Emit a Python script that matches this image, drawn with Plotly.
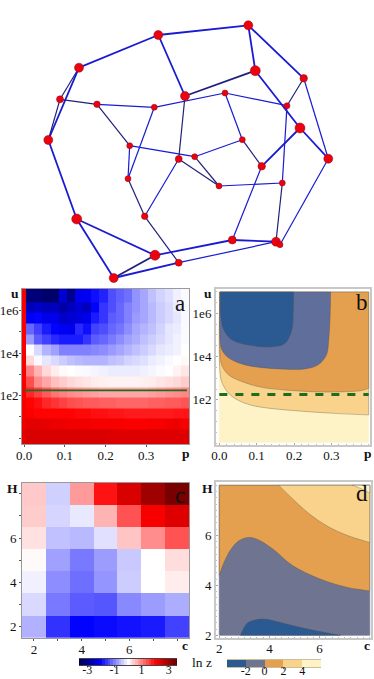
import plotly.graph_objects as go

W, H = 374, 679
SERIF = "Liberation Serif"

# ---- graph (top): node positions
node_x = [248.3,158.3,79,60,97,154.3,185,225,255.3,303.7,287,300,328.3,48.3,129.7,242.3,194.7,178.7,261.7,128,219,282.3,144.7,76.7,155,232.3,276,280,178.7,113.7]
node_y = [25.3,35,67.7,99.3,104.3,107.3,96,93,70.7,78.3,105.7,128,158.7,140,145.7,139.7,156.7,159,166.3,178.7,186,183,216.3,219,255.3,240,241.7,244.7,262.7,278]
node_size = [9,9,9,7,6.5,6,9,6,10,7.5,6,10,9,9,6,6,6,7,7.5,6,6,6,6.5,10,10,8,9,6,7,9]
edges = [(0,1),(0,8),(0,9),(1,2),(1,6),(2,3),(2,13),(3,13),(3,4),(4,5),(4,14),(5,7),(5,19),(6,8),(6,17),(7,10),(7,15),(8,11),(9,10),(9,12),(10,21),(11,12),(11,18),(12,27),(13,23),(14,16),(14,19),(15,16),(15,18),(16,20),(17,20),(17,22),(18,25),(19,22),(20,21),(21,26),(22,28),(23,24),(23,29),(24,25),(24,29),(25,26),(28,29),(28,26)]
dark_edges = [(2,3),(3,13),(3,4),(4,14),(6,8),(6,17),(9,10),(15,18),(16,20),(17,20),(19,22),(22,28),(21,26),(24,29)]
thick_edges = [(0,1),(0,8),(0,9),(1,2),(1,6),(2,13),(6,8),(8,11),(11,12),(11,18),(13,23),(23,24),(23,29),(24,25),(24,29),(25,26),(28,29)]

# ---- panel a
a_p_edges = [-0.005,0.005,0.025,0.045,0.065,0.085,0.105,0.125,0.145,0.165,0.185,0.205,0.225,0.245,0.265,0.285,0.305,0.325,0.345,0.365,0.385,0.405]
a_u_edges = [-0.28,0.4,0.9,1.4,1.9,2.4,2.9,3.4,3.9,4.4,4.9,5.4,5.9,6.4,7.05]
a_z = [
 [2.3,2.4,2.4,2.4,2.4,2.4,2.4,2.4,2.4,2.4,2.4,2.35,2.35,2.35,2.35,2.35,2.35,2.35,2.35,2.35,2.35],
 [2.2,2.3,2.3,2.25,2.2,2.2,2.15,2.15,2.15,2.1,2.1,2.1,2.1,2.05,2.05,2.05,2.1,2.1,2.15,2.2,2.1],
 [2.1,2.05,2,2,2,2,2,1.95,1.95,1.9,1.9,1.85,1.85,1.8,1.8,1.8,1.8,1.8,1.8,1.85,1.85],
 [2.1,2.0,1.9,1.7,1.6,1.5,1.4,1.35,1.3,1.3,1.25,1.25,1.2,1.2,1.2,1.2,1.25,1.25,1.3,1.3,1.35],
 [2.1,1.7,1.5,1.3,1.1,1.0,0.9,0.85,0.8,0.75,0.7,0.7,0.7,0.7,0.7,0.7,0.75,0.8,0.85,0.9,0.95],
 [2.1,1.4,0.9,0.7,0.5,0.4,0.3,0.25,0.2,0.15,0.12,0.1,0.1,0.1,0.1,0.12,0.15,0.2,0.25,0.3,0.4],
 [2.1,1.0,0.6,0.3,0.15,0.05,0,-0.03,-0.05,-0.08,-0.12,-0.15,-0.15,-0.15,-0.15,-0.12,-0.08,-0.03,0,0.1,0.2],
 [2.1,0.3,-0.05,-0.2,-0.3,-0.4,-0.5,-0.55,-0.6,-0.6,-0.6,-0.5,-0.45,-0.35,-0.3,-0.25,-0.15,-0.1,-0.05,0,0.05],
 [2.1,0,-0.3,-0.6,-0.75,-1.0,-1.0,-1.0,-1.0,-0.95,-0.9,-0.8,-0.7,-0.6,-0.5,-0.4,-0.3,-0.2,-0.15,-0.1,0],
 [2.1,-0.8,-1.3,-1.5,-1.7,-1.8,-1.8,-1.8,-1.6,-1.3,-1.2,-1.05,-0.9,-0.75,-0.65,-0.5,-0.4,-0.3,-0.2,-0.1,-0.03],
 [2.1,-1.2,-1.5,-1.8,-2.0,-2.1,-2.2,-1.7,-1.9,-1.5,-1.4,-1.2,-1.1,-0.9,-0.7,-0.6,-0.5,-0.35,-0.2,-0.15,-0.05],
 [2.1,-2.1,-2.0,-2.2,-2.2,-2.5,-2.4,-2.3,-2.2,-1.8,-1.6,-1.3,-1.2,-1.0,-0.8,-0.7,-0.55,-0.4,-0.3,-0.2,-0.05],
 [2.1,-2.6,-2.5,-2.6,-2.6,-2.8,-2.6,-2.4,-2.6,-2.0,-1.6,-1.4,-1.2,-1.0,-0.85,-0.7,-0.55,-0.4,-0.3,-0.15,-0.05],
 [2.1,-3.2,-3.2,-3.3,-3.3,-2.4,-3.0,-2.2,-2.1,-1.9,-1.75,-1.4,-1.25,-1.15,-0.85,-0.7,-0.5,-0.35,-0.25,-0.12,-0.03],
]
green_u = 2.25

# ---- panel b: contour boundaries (p, log10 u); each region closes along the frame
b1_p = [0.001,0.003,0.012,0.029,0.052,0.087,0.132,0.22,0.309,0.4,0.4,0.001]
b1_u = [6.98,3.08,2.62,2.23,1.97,1.75,1.62,1.48,1.38,1.31,6.98,6.98]
b2_p = [0.001,0.003,0.009,0.025,0.06,0.114,0.176,0.265,0.336,0.38,0.4,0.4,0.001]
b2_u = [6.98,3.85,3.51,3.15,2.85,2.58,2.46,2.37,2.38,2.43,2.54,6.98,6.98]
b3_p = [0.001,0.002,0.005,0.02,0.06,0.114,0.176,0.229,0.265,0.287,0.293,0.297,0.298,0.001]
b3_u = [6.98,4.77,4.38,4.0,3.66,3.49,3.42,3.43,3.62,4.08,4.77,6.0,6.98,6.98]
b4_p = [0.003,0.004,0.012,0.034,0.087,0.14,0.176,0.194,0.198,0.199,0.003]
b4_u = [6.98,5.85,5.23,4.77,4.51,4.45,4.62,5.23,6.0,6.98,6.98]
b_base_p = [0,0.4,0.4,0,0]
b_base_u = [0.05,0.05,6.98,6.98,0.05]

# ---- panel c
c_c = [2,3,4,5,6,7,8]
c_H = [2,3,4,5,6,7,8]
c_z = [
 [-0.62,-1.62,-2.0,-1.94,-1.87,-1.81,-1.5],
 [-0.3,-1.06,-1.3,-1.34,-0.93,-0.78,-0.65],
 [-0.12,-0.9,-1.15,-0.84,-0.4,0,0.15],
 [0.04,-0.75,-1.06,-0.78,-0.43,0,0.27],
 [0.24,-0.49,-0.55,-0.24,0.46,0.9,1.37],
 [0.4,-0.33,-0.18,0.59,1.37,2.1,2.35],
 [0.43,-0.37,0.8,1.87,2.4,3.0,3.4],
]

# ---- panel d: contour boundaries (c, H)
d_base_c = [2,8,8,2,2]
d_base_H = [2,2,8,8,2]
d1_c = [2.84,3.1,3.37,3.77,4.37,5.17,5.97,6.84,2.84]
d1_H = [2,2.47,2.6,2.65,2.53,2.33,2.16,2,2]
d2_c = [2,2.17,2.44,2.77,3.13,3.51,4.11,4.91,5.97,7.04,8,8,2,2]
d2_H = [4.4,4.87,5.4,5.77,5.91,5.84,5.47,4.8,4.27,3.93,3.77,8,8,4.4]
d3_c = [4.37,4.91,5.57,6.37,7.17,8,8,4.37]
d3_H = [8,7.47,6.87,6.33,5.97,5.71,8,8]
d4_c = [7.31,7.64,8,8,7.31]
d4_H = [8,7.87,7.69,8,8]

# ---- colours and legends
diverging = [[0,"#00004A"],[0.22,"#0000FF"],[0.5,"#FFFFFF"],[0.78,"#FF0000"],[1,"#640000"]]
ramp_levels = [-3.6,-3.4,-3.2,-3,-2.8,-2.6,-2.4,-2.2,-2,-1.8,-1.6,-1.4,-1.2,-1,-0.8,-0.6,-0.4,-0.2,0,0.2,0.4,0.6,0.8,1,1.2,1.4,1.6,1.8,2,2.2,2.4,2.6,2.8,3,3.2,3.4,3.6]
level_edges = [-4,-2,0,2,4,6]
level_mid = [-3,-1,1,3,5]
level_colors = ["#2B5A92","#6F7490","#E5A04F","#F9D38C","#FDF3C7"]
b_slate = "#5F6E9A"
frame_grey = "#C8C8C8"

def xdom(a, b): return [a / W, b / W]
def ydom(a, b): return [1 - b / H, 1 - a / H]

fig = go.Figure()
tf = dict(family=SERIF, size=13, color="#111")
tf_legend = dict(family=SERIF, size=12, color="#111")

# graph
def add_edges(subset, color, width):
    xs, ys = [], []
    for i, j in subset:
        xs += [node_x[i], node_x[j], None]
        ys += [node_y[i], node_y[j], None]
    fig.add_trace(go.Scatter(x=xs, y=ys, mode="lines", line=dict(color=color, width=width),
                             xaxis="x", yaxis="y", hoverinfo="skip", showlegend=False))
for e in edges:
    col = "#20207A" if e in dark_edges else "#1A1AD2"
    add_edges([e], col, 1.8 if e in thick_edges else 1.2)
fig.add_trace(go.Scatter(x=node_x, y=node_y, mode="markers",
                         marker=dict(size=node_size, color="#EE0010", opacity=1, line=dict(color="#801010", width=0.5)),
                         xaxis="x", yaxis="y", showlegend=False))

# a
fig.add_trace(go.Heatmap(x=a_p_edges, y=a_u_edges, z=a_z, coloraxis="coloraxis", xaxis="x2", yaxis="y2"))
fig.add_trace(go.Scatter(x=[0, 0.4], y=[green_u, green_u], mode="lines", line=dict(color="#1E6B22", width=1.6),
                         xaxis="x2", yaxis="y2", showlegend=False))

def soften(xs, ys, corners):
    """Keep a hard corner under spline drawing by pinning it with very near neighbours."""
    n = len(xs) - 1
    ox, oy = [], []
    for i in range(n):
        if i in corners:
            pi, ni = (i - 1) % n, (i + 1) % n
            ox += [xs[i] + 0.01 * (xs[pi] - xs[i]), xs[i], xs[i] + 0.01 * (xs[ni] - xs[i])]
            oy += [ys[i] + 0.01 * (ys[pi] - ys[i]), ys[i], ys[i] + 0.01 * (ys[ni] - ys[i])]
        else:
            ox.append(xs[i]); oy.append(ys[i])
    return ox + ox[:1], oy + oy[:1]

def poly(xs, ys, color, xa, ya, corners=None):
    if corners is None:
        line = dict(color=color, width=0.7)
    else:
        xs, ys = soften(xs, ys, corners)
        line = dict(color="rgba(90,80,70,0.5)", width=0.7, shape="spline", smoothing=1)
    fig.add_trace(go.Scatter(x=xs, y=ys, mode="lines", fill="toself", fillcolor=color, line=line,
                             xaxis=xa, yaxis=ya, hoverinfo="skip", showlegend=False))

# b
poly(b_base_p, b_base_u, level_colors[4], "x3", "y3")
poly(b1_p, b1_u, level_colors[3], "x3", "y3", [0, 9, 10])
poly(b2_p, b2_u, level_colors[2], "x3", "y3", [0, 10, 11])
poly(b3_p, b3_u, b_slate, "x3", "y3", [0, 12])
poly(b4_p, b4_u, level_colors[0], "x3", "y3", [0, 9])
fig.add_trace(go.Scatter(x=[0, 0.4], y=[green_u, green_u], mode="lines",
                         line=dict(color="#1E6B22", width=3, dash="8px,8px"),
                         xaxis="x3", yaxis="y3", showlegend=False))

# c
fig.add_trace(go.Heatmap(x=c_c, y=c_H, z=c_z, coloraxis="coloraxis", xaxis="x4", yaxis="y4"))

# d
poly(d_base_c, d_base_H, level_colors[1], "x5", "y5")
poly(d1_c, d1_H, level_colors[0], "x5", "y5", [0, 7])
poly(d2_c, d2_H, level_colors[2], "x5", "y5", [0, 10, 11, 12])
poly(d3_c, d3_H, level_colors[3], "x5", "y5", [0, 5, 6])
poly(d4_c, d4_H, level_colors[4], "x5", "y5", [0, 2, 3])

# discrete legend
fig.add_trace(go.Heatmap(x=level_edges, y=[0, 1], z=[level_mid], zmin=-4, zmax=6, showscale=False,
                         colorscale=[[0,level_colors[0]],[0.2,level_colors[0]],[0.2,level_colors[1]],[0.4,level_colors[1]],
                                     [0.4,level_colors[2]],[0.6,level_colors[2]],[0.6,level_colors[3]],[0.8,level_colors[3]],
                                     [0.8,level_colors[4]],[1,level_colors[4]]],
                         xaxis="x6", yaxis="y6"))

# diverging legend
fig.add_trace(go.Heatmap(x=ramp_levels, y=[0, 1], z=[ramp_levels], coloraxis="coloraxis", xaxis="x7", yaxis="y7"))

def heat_axes(rng, dom, vals, text, standoff):
    return dict(range=rng, domain=dom, tickvals=vals, ticktext=text, ticks="outside", ticklen=2, tickwidth=1,
                tickcolor="#555", showgrid=False, zeroline=False, showline=True, linecolor="#9A9A9A", linewidth=1,
                mirror=True, tickfont=tf, layer="above traces", ticklabelstandoff=standoff)

def frame_axes(rng, dom, vals, text, minor, standoff):
    return dict(range=rng, domain=dom, tickvals=vals, ticktext=text, ticks="inside", ticklen=2, tickwidth=1,
                tickcolor="#AAA", showgrid=False, zeroline=False, showline=True, linecolor=frame_grey, linewidth=2,
                mirror=True, tickfont=tf, ticklabelstandoff=standoff,
                minor=dict(tickvals=minor, ticks="inside", ticklen=1, tickcolor="#BBB"))

decades = [0,1,2,3,4,5,6]
decade_labels = ["","","1e2","","1e4","","1e6"]
pv = [0,0.1,0.2,0.3]
pl = ["0.0","0.1","0.2","0.3"]
ints = [2,3,4,5,6,7]
intl = ["2","","4","","6",""]
xminor_b = [i * 0.02 for i in range(21)]
yminor_b = [i * 0.5 for i in range(15)]
minor_d = [2 + i * 0.25 for i in range(25)]

fig.update_layout(
    width=W, height=H, margin=dict(l=0, r=0, t=0, b=0), paper_bgcolor="white", plot_bgcolor="white",
    showlegend=False, autosize=False,
    coloraxis=dict(cmin=-3.6, cmax=3.6, colorscale=diverging, showscale=False),
    xaxis=dict(range=[0, W], domain=[0, 1], visible=False),
    yaxis=dict(range=[H, 0], domain=[0, 1], visible=False),
    xaxis2=heat_axes([-0.005, 0.405], xdom(22, 189), pv, pl, -3) | dict(anchor="y2"),
    yaxis2=heat_axes([-0.28, 7.05], ydom(288.5, 444), decades, decade_labels, -2) | dict(anchor="x2"),
    xaxis3=frame_axes([-0.009, 0.4035], xdom(216, 370), pv, pl, xminor_b, -3) | dict(anchor="y3"),
    yaxis3=frame_axes([-0.08, 7.12], ydom(289, 445), decades, decade_labels, yminor_b, 0) | dict(anchor="x3"),
    xaxis4=heat_axes([1.5, 8.5], xdom(22, 189), [2,3,4,5,6,7,8], ["2","","4","","6","",""], -3) | dict(anchor="y4"),
    yaxis4=heat_axes([1.5, 8.5], ydom(482.7, 638), [2,3,4,5,6,7,8], ["2","","4","","6","",""], 0) | dict(anchor="x4"),
    xaxis5=frame_axes([1.87, 8.05], xdom(216, 371), ints, intl, minor_d, -3) | dict(anchor="y5"),
    yaxis5=frame_axes([1.89, 8.13], ydom(482, 638), ints, intl, minor_d, 0) | dict(anchor="x5"),
    xaxis6=dict(range=[-4, 6], domain=xdom(227, 321), tickvals=[-2,0,2,4], ticktext=["-2","0","2","4"], ticks="outside",
                ticklen=1, tickcolor="#555", tickfont=tf_legend, showline=True, linecolor="#C8BE9A", mirror=True,
                showgrid=False, zeroline=False, anchor="y6", ticklabelstandoff=-8),
    yaxis6=dict(range=[0, 1], domain=ydom(660, 667), visible=False, anchor="x6"),
    xaxis7=dict(range=[-3.6, 3.6], domain=xdom(79, 177), tickvals=[-3,-1,1,3], ticktext=["-3","-1","1","3"], ticks="outside",
                ticklen=1, tickcolor="#555", tickfont=tf_legend, showline=True, linecolor="#444", mirror=True,
                showgrid=False, zeroline=False, anchor="y7", ticklabelstandoff=-7),
    yaxis7=dict(range=[0, 1], domain=ydom(659, 665), visible=False, anchor="x7"),
)
fig.update_xaxes(automargin=False)
fig.update_yaxes(automargin=False)

def label(px, py, text, size=13, bold=False):
    fig.add_annotation(xref="paper", yref="paper", x=px / W, y=1 - py / H, text=f"<b>{text}</b>" if bold else text,
                       showarrow=False, xanchor="center", yanchor="middle",
                       font=dict(family=SERIF, size=size, color="#111"))

for px, py, t in [(15, 293, "u"), (186, 453, "p"), (208, 293, "u"), (368, 453, "p"),
                  (12, 488, "H"), (185, 645, "c"), (207, 488, "H"), (367, 645, "c")]:
    label(px, py, t, 13.5, True)
for px, py, t in [(180, 303, "a"), (362, 302, "b"), (180, 495, "c"), (362, 493, "d")]:
    label(px, py, t, 23)
label(202, 662, "ln z", 13.5)

fig.write_html("out.html", config={"displayModeBar": False},
               post_script="document.body.style.margin='0';document.body.style.overflow='hidden';")
